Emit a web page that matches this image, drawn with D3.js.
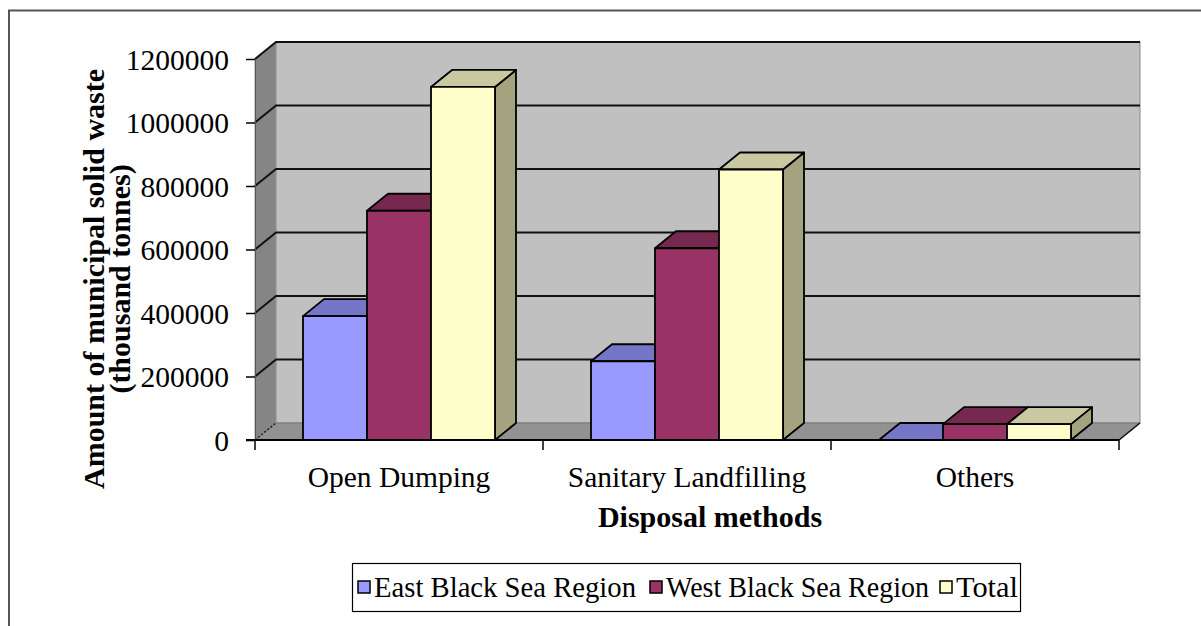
<!DOCTYPE html>
<html><head><meta charset="utf-8">
<script src="https://cdn.jsdelivr.net/npm/d3@7"></script>
<style>html,body{margin:0;padding:0;background:#fff;overflow:hidden}</style>
</head><body>
<svg id="c" width="1201" height="626"></svg>
<script>
const categories = ["Open Dumping", "Sanitary Landfilling", "Others"];
const seriesNames = ["East Black Sea Region", "West Black Sea Region", "Total"];
const eastValues = [390000, 248000, 0];
const westValues = [722000, 604000, 50000];
const totalValues = [1112000, 852000, 50000];
const yTicks = [0, 200000, 400000, 600000, 800000, 1000000, 1200000];
const frontColors = ["#9999FF", "#993366", "#FFFFCC"];
const topColors = ["#7676C8", "#76284F", "#C9C9A1"];
const sideColors = ["#6A6AB0", "#652244", "#A3A37F"];

const seriesValues = [eastValues, westValues, totalValues];
const svg = d3.select("#c");
const FONT = "'Liberation Serif','Times New Roman',serif";

// outer frame
svg.append("path").attr("d", "M9,640 L9,10.5 L1210,10.5").attr("fill", "none")
  .attr("stroke", "#555").attr("stroke-width", 2);

const y = d3.scaleLinear().domain([0, 1200000]).range([440, 59]);
const x = d3.scaleBand().domain(categories).range([255, 1119]).padding(0);
const xs = d3.scaleBand().domain(seriesNames).range([48, 240]).padding(0);
const dx = 21, dy = -17;
const x0 = 255, x1 = 1119, yb = y(0), yt = y(1200000);

// walls
svg.append("polygon").attr("points", [[x0, yt], [x0 + dx, yt + dy], [x0 + dx, yb + dy], [x0, yb]].join(" "))
  .attr("fill", "#858585").attr("stroke", "#999").attr("stroke-width", 1);
svg.append("rect").attr("x", x0 + dx).attr("y", yt + dy).attr("width", x1 - x0).attr("height", yb - yt)
  .attr("fill", "#C0C0C0").attr("stroke", "#888").attr("stroke-width", 1);
svg.append("polygon").attr("points", [[x0, yb], [x0 + dx, yb + dy], [x1 + dx, yb + dy], [x1, yb]].join(" "))
  .attr("fill", "#929292").attr("stroke", "#777").attr("stroke-width", 1);

// gridlines
const grid = svg.append("g");
yTicks.filter(v => v > 0).forEach(v => {
  grid.append("path")
    .attr("d", `M${x0},${y(v)} L${x0 + dx},${y(v) + dy} L${x1 + dx},${y(v) + dy}`)
    .attr("fill", "none").attr("stroke", "#111").attr("stroke-width", 2);
});
svg.append("line").attr("x1", x0).attr("y1", yb).attr("x2", x0 + dx).attr("y2", yb + dy)
  .attr("stroke", "#222").attr("stroke-width", 1.5).attr("stroke-dasharray", "2,2");
svg.append("line").attr("x1", x1).attr("y1", yb).attr("x2", x1 + dx).attr("y2", yb + dy)
  .attr("stroke", "#111").attr("stroke-width", 1.5);

// bars
const bars = svg.append("g");
categories.forEach((cat, ci) => {
  seriesNames.forEach((s, si) => {
    const v = seriesValues[si][ci];
    const bx0 = x(cat) + xs(s), bx1 = bx0 + xs.bandwidth();
    const yv = y(v);
    const g = bars.append("g").attr("stroke", "#000").attr("stroke-width", 1.8).attr("stroke-linejoin", "round");
    g.append("polygon").attr("points", [[bx1, yv], [bx1 + dx, yv + dy], [bx1 + dx, yb + dy], [bx1, yb]].join(" "))
      .attr("fill", sideColors[si]);
    g.append("polygon").attr("points", [[bx0, yv], [bx0 + dx, yv + dy], [bx1 + dx, yv + dy], [bx1, yv]].join(" "))
      .attr("fill", topColors[si]);
    if (v > 0) g.append("rect").attr("x", bx0).attr("y", yv).attr("width", bx1 - bx0).attr("height", yb - yv)
      .attr("fill", frontColors[si]);
  });
});

// y axis
const yAxis = svg.append("g").attr("transform", `translate(${x0},0)`)
  .call(d3.axisLeft(y).tickValues(yTicks).tickSize(9).tickPadding(17).tickFormat(d3.format("d")));
yAxis.select(".domain").attr("stroke", "#555").attr("stroke-width", 1);
yAxis.selectAll(".tick line").attr("stroke", "#000").attr("stroke-width", 1.5);
yAxis.selectAll(".tick text").attr("font-family", FONT).attr("font-size", 29.5).attr("fill", "#000").attr("dy", "0.34em");

// x axis
svg.append("line").attr("x1", x0 - 9).attr("x2", x1).attr("y1", yb).attr("y2", yb)
  .attr("stroke", "#000").attr("stroke-width", 2);
const xAxis = svg.append("g").attr("transform", `translate(0,${yb})`)
  .call(d3.axisBottom(x).tickSize(0).tickPadding(26));
xAxis.select(".domain").remove();
xAxis.selectAll(".tick text").attr("font-family", FONT).attr("font-size", 29.5).attr("fill", "#000");
const edges = categories.map(c => x(c)).concat([x1]);
svg.selectAll(".xedge").data(edges).join("line").attr("class", "xedge")
  .attr("x1", d => d).attr("x2", d => d).attr("y1", yb).attr("y2", yb + 10)
  .attr("stroke", "#000").attr("stroke-width", 1.5);

// titles
svg.append("text").attr("x", (x0 + x1) / 2 + 23).attr("y", 527).attr("text-anchor", "middle")
  .attr("font-family", FONT).attr("font-weight", "bold").attr("font-size", 30).text("Disposal methods");
const yt1 = svg.append("text").attr("transform", "translate(104,279) rotate(-90)").attr("text-anchor", "middle")
  .attr("font-family", FONT).attr("font-weight", "bold").attr("font-size", 30);
yt1.append("tspan").attr("x", 0).attr("dy", 0).text("Amount of municipal solid waste");
yt1.append("tspan").attr("x", 0).attr("dy", 26).text("(thousand tonnes)");

// legend
const lg = svg.append("g");
lg.append("rect").attr("x", 352.5).attr("y", 563.5).attr("width", 668).attr("height", 48)
  .attr("fill", "#fff").attr("stroke", "#000").attr("stroke-width", 1.2);
const legendX = [358, 650, 940];
const legendTextW = [262, 263, 62];
seriesNames.forEach((s, i) => {
  lg.append("rect").attr("x", legendX[i]).attr("y", 581).attr("width", 12).attr("height", 12)
    .attr("fill", frontColors[i]).attr("stroke", "#000").attr("stroke-width", 1.5);
  lg.append("text").attr("x", legendX[i] + 16).attr("y", 597).attr("font-family", FONT)
    .attr("font-size", 29).attr("textLength", legendTextW[i]).attr("lengthAdjust", "spacingAndGlyphs").text(s);
});
</script>
</body></html>
